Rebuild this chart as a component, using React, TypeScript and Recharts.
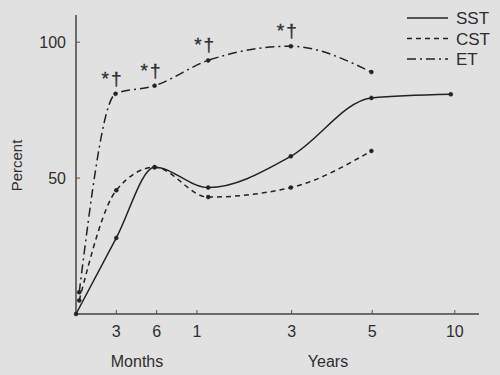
import React from "react";
import { LineChart, Line, XAxis, YAxis, LabelList } from "recharts";

// x positions are in axis units (3 mo = 1, 6 mo = 2, 1 yr = 3, ...)
const tickPos = [1, 2, 3, 5.35, 7.35, 9.4];
const tickLabels = ["3", "6", "1", "3", "5", "10"];

const sstX = [0, 1, 1.95, 3.28, 5.33, 7.33, 9.3];
const sstY = [0, 28, 54, 46.5, 58, 79.5, 80.8];

const cstX = [0.08, 1, 1.95, 3.28, 5.33, 7.33];
const cstY = [5, 45.5, 54, 43, 46.5, 60];

const etX = [0.08, 0.98, 1.95, 3.28, 5.33, 7.33];
const etY = [8, 81, 84, 93.3, 98.5, 89];
const etMarks = ["", "*\u2020", "*\u2020", "*\u2020", "*\u2020", ""];

const sstData = sstX.map((x, i) => ({ x, v: sstY[i] }));
const cstData = cstX.map((x, i) => ({ x, v: cstY[i] }));
const etData = etX.map((x, i) => ({ x, v: etY[i], mark: etMarks[i] }));

const INK = "#222";
const TEXT = "#2e2e2e";
const FONT = "'Liberation Sans', Arial, Helvetica, sans-serif";

const XTick = (props: any) => {
  const { x, y, index } = props;
  return (
    <g>
      <line x1={x} x2={x} y1={y} y2={y - 4} stroke="#555" strokeWidth={1} />
      <text x={x} y={y + 23} textAnchor="middle" fontSize={16} fill={TEXT} fontFamily={FONT}>
        {tickLabels[index]}
      </text>
    </g>
  );
};

const YTick = (props: any) => {
  const { x, y, payload } = props;
  return (
    <g>
      <line x1={x} x2={x + 4} y1={y} y2={y} stroke="#555" strokeWidth={1} />
      <text x={x - 10} y={y + 6} textAnchor="end" fontSize={16} fill={TEXT} fontFamily={FONT}>
        {payload.value}
      </text>
    </g>
  );
};

const legendItems = [
  { name: "SST", dash: undefined },
  { name: "CST", dash: "5 4" },
  { name: "ET", dash: "9 4 2 4" },
];

export default function App() {
  return (
    <div style={{ position: "absolute", left: 0, top: 0, width: 500, height: 375, background: "#e1e1e1" }}>
      <LineChart
        width={500}
        height={375}
        margin={{ top: 15, right: 21, bottom: 31, left: 0 }}
        style={{ fontFamily: FONT }}
      >
        <XAxis
          type="number"
          dataKey="x"
          domain={[0, 10]}
          ticks={tickPos}
          tick={<XTick />}
          tickSize={0}
          tickMargin={0}
          tickLine={false}
          height={30}
          axisLine={{ stroke: "#444", strokeWidth: 1.5 }}
          label={{
            content: (p: any) => {
              const vb = p.viewBox;
              return (
                <g fontSize={16} fill={TEXT} fontFamily={FONT}>
                  <text x={vb.x + 61} y={vb.y + 53} textAnchor="middle" fill={TEXT}>Months</text>
                  <text x={vb.x + 252} y={vb.y + 53} textAnchor="middle" fill={TEXT}>Years</text>
                </g>
              );
            },
          }}
        />
        <YAxis
          type="number"
          domain={[0, 110]}
          ticks={[50, 100]}
          width={76}
          tick={<YTick />}
          tickSize={0}
          tickMargin={0}
          tickLine={false}
          axisLine={{ stroke: "#444", strokeWidth: 1.5 }}
          label={{
            content: (p: any) => {
              const vb = p.viewBox;
              const cy = vb.y + vb.height / 2 + 1;
              return (
                <text
                  x={22}
                  y={cy}
                  transform={`rotate(-90, 22, ${cy})`}
                  textAnchor="middle"
                  fontSize={15}
                  fill={TEXT}
                  fontFamily={FONT}
                >
                  Percent
                </text>
              );
            },
          }}
        />
        <Line
          data={sstData}
          dataKey="v"
          type="monotone"
          stroke={INK}
          strokeWidth={1.5}
          dot={{ r: 2, fill: INK, stroke: INK, strokeWidth: 0.5 }}
          isAnimationActive={false}
        />
        <Line
          data={cstData}
          dataKey="v"
          type="monotone"
          stroke={INK}
          strokeWidth={1.5}
          strokeDasharray="5 4"
          dot={{ r: 2, fill: INK, stroke: INK, strokeWidth: 0.5, strokeDasharray: "" }}
          isAnimationActive={false}
        />
        <Line
          data={etData}
          dataKey="v"
          type="monotone"
          stroke={INK}
          strokeWidth={1.5}
          strokeDasharray="9 4 2 4"
          dot={{ r: 2, fill: INK, stroke: INK, strokeWidth: 0.5, strokeDasharray: "" }}
          isAnimationActive={false}
        >
          <LabelList
            dataKey="mark"
            content={(p: any) =>
              p.value ? (
                <text
                  x={p.x - 3}
                  y={p.y - 9}
                  textAnchor="middle"
                  fontSize={19}
                  letterSpacing={2}
                  fill={TEXT}
                  stroke={TEXT}
                  strokeWidth={0.3}
                  fontFamily={FONT}
                >
                  {p.value}
                </text>
              ) : null
            }
          />
        </Line>
      </LineChart>
      <svg style={{ position: "absolute", left: 400, top: 5 }} width={100} height={70}>
        {legendItems.map((item, i) => {
          const y = 13 + i * 20.5;
          return (
            <g key={item.name}>
              <line x1={7} x2={48} y1={y} y2={y} stroke={INK} strokeWidth={1.5} strokeDasharray={item.dash} />
              <text x={56} y={y + 6} fontSize={17} fill={TEXT} fontFamily={FONT}>
                {item.name}
              </text>
            </g>
          );
        })}
      </svg>
    </div>
  );
}
